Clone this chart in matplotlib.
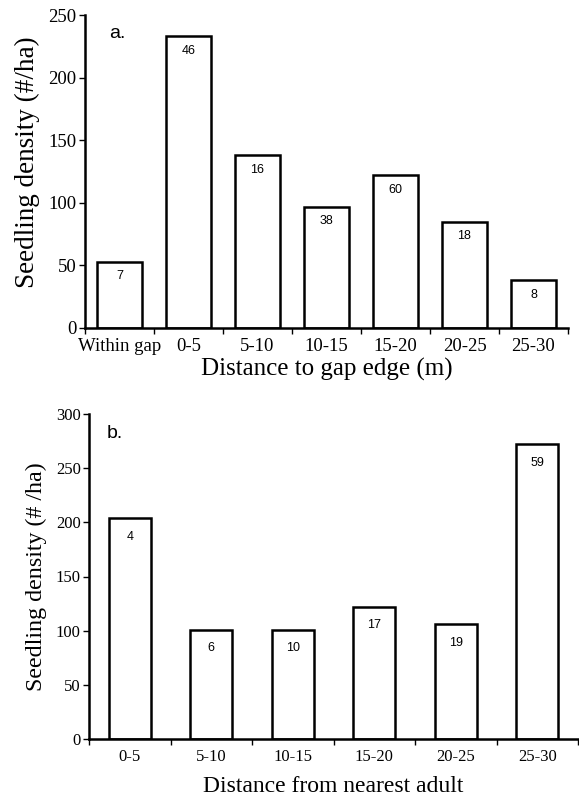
import matplotlib.pyplot as plt
import numpy as np

# panel a: distance to gap edge
gap_cats = ["Within gap", "0-5", "5-10", "10-15", "15-20", "20-25", "25-30"]
gap_density = [53, 233, 138, 97, 122, 85, 38]
gap_n = [7, 46, 16, 38, 60, 18, 8]

# panel b: distance from nearest adult
adult_cats = ["0-5", "5-10", "10-15", "15-20", "20-25", "25-30"]
adult_density = [204, 101, 101, 122, 106, 272]
adult_n = [4, 6, 10, 17, 19, 59]

serif = "Liberation Serif"
sans = "Liberation Sans"

fig = plt.figure(figsize=(5.79, 7.98), dpi=100)
ax_a = fig.add_axes([85 / 579, 1 - 328 / 798, 483 / 579, 313 / 798])
ax_b = fig.add_axes([89 / 579, 1 - 739 / 798, 489 / 579, 325 / 798])


def draw_panel(ax, cats, vals, counts, ymax, ystep, width, tick_fs, ylab_fs, xlab_fs,
               xlabel, ylabel, letter, letter_x, num_off, xlab_pad, ylab_y):
    x = np.arange(len(cats)) + 0.5
    ax.bar(x, vals, width, color="white", edgecolor="black", linewidth=1.8, zorder=2)
    for xi, v, n in zip(x, vals, counts):
        ax.annotate(str(n), (xi, v), xytext=(0, -num_off), textcoords="offset points",
                    ha="center", va="top", fontsize=9, family=sans)
    ax.set_xlim(0, len(cats))
    ax.set_ylim(0, ymax)
    ax.set_yticks(np.arange(0, ymax + 1, ystep))
    ax.set_xticks(np.arange(len(cats) + 1))
    ax.set_xticklabels([])
    ax.set_xticks(x, minor=True)
    ax.set_xticklabels(cats, minor=True, family=serif, fontsize=tick_fs)
    ax.tick_params(axis="x", which="major", length=4, width=1, direction="out")
    ax.tick_params(axis="x", which="minor", length=0, pad=7)
    ax.tick_params(axis="y", length=4, width=1, direction="out", pad=2)
    for lab in ax.get_yticklabels():
        lab.set_family(serif)
        lab.set_fontsize(tick_fs)
    for s in ["top", "right"]:
        ax.spines[s].set_visible(False)
    for s in ["left", "bottom"]:
        ax.spines[s].set_linewidth(1.8)
    ax.set_xlabel(xlabel, family=serif, fontsize=xlab_fs, labelpad=xlab_pad)
    ax.set_ylabel(ylabel, family=serif, fontsize=ylab_fs, labelpad=6)
    ax.yaxis.label.set_y(ylab_y)
    ax.text(letter_x, 0.94, letter, transform=ax.transAxes, family=sans, fontsize=14,
            ha="left", va="center")


draw_panel(ax_a, gap_cats, gap_density, gap_n, 250, 50, 0.64, 13.5, 19.5, 18,
           "Distance to gap edge (m)", "Seedling density (#/ha)", "a.", 0.05, 6, 2, 0.53)
draw_panel(ax_b, adult_cats, adult_density, adult_n, 300, 50, 0.52, 12, 17.3, 17,
           "Distance from nearest adult", "Seedling density (# /ha)", "b.", 0.037, 9, 8, 0.5)

fig.savefig("out.png", dpi=100)
